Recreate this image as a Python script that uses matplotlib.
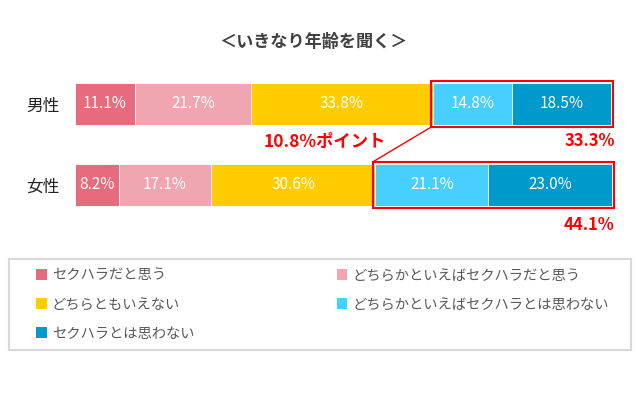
import matplotlib
matplotlib.use("Agg")
import matplotlib.pyplot as plt
import numpy as np
from matplotlib.patches import Patch, Rectangle

plt.rcParams["font.family"] = ["Noto Sans CJK JP", "DejaVu Sans"]

title = "＜いきなり年齢を聞く＞"
groups = ["男性", "女性"]
answers = [
    "セクハラだと思う",
    "どちらかといえばセクハラだと思う",
    "どちらともいえない",
    "どちらかといえばセクハラとは思わない",
    "セクハラとは思わない",
]
male = [11.1, 21.7, 33.8, 14.8, 18.5]
female = [8.2, 17.1, 30.6, 21.1, 23.0]
colors = ["#E66C7D", "#F0A6B0", "#FFCC00", "#47CFFF", "#0099CC"]

values = np.array([male, female])
W, H = 640, 396
fig = plt.figure(figsize=(W / 100, H / 100), dpi=100)
ax = fig.add_axes([75 / W, (H - 225.5) / H, 537 / W, 162 / H])

bar_h = 0.52
left = np.zeros(len(groups))
for k, (lab, col) in enumerate(zip(answers, colors)):
    ax.barh(range(len(groups)), values[:, k], left=left, height=bar_h,
            color=col, edgecolor="white", linewidth=0.6, label=lab)
    for i, v in enumerate(values[:, k]):
        ax.text(left[i] + v / 2, i, f"{v:.1f}%", ha="center", va="center",
                color="white", fontsize=11)
    left += values[:, k]

ax.set_xlim(0, 100)
ax.set_ylim(1.5, -0.5)
ax.set_yticks(range(len(groups)), groups, fontsize=12, color="#222222")
ax.tick_params(axis="y", length=0, pad=11)
ax.set_xticks([])
for s in ax.spines.values():
    s.set_visible(False)

# red boxes round the two "not harassment" segments
dx, dy = 0.37, 0.028
corners = []
for i in range(len(groups)):
    x0 = values[i, :3].sum() - dx
    x1 = values[i].sum() + dx
    y0 = i - bar_h / 2 - dy
    ax.add_patch(Rectangle((x0, y0), x1 - x0, bar_h + 2 * dy, fill=False,
                           edgecolor="#FF0000", linewidth=1.5, clip_on=False))
    corners.append((x0, y0, x1))
    tot = values[i, 3:].sum()
    ax.text(100.5, i + 0.46 + (0.03 if i else 0), f"{tot:.1f}%", ha="right", va="center",
            color="#FF0000", fontsize=12, fontweight="bold", clip_on=False)

# connector from male box bottom-left to female box top-left
ax.plot([corners[0][0], corners[1][0]], [bar_h / 2 + dy, 1 - bar_h / 2 - dy],
        color="#FF0000", linewidth=1, clip_on=False)
diff = values[1, 3:].sum() - values[0, 3:].sum()
ax.text(46.6, 0.47, f"{diff:.1f}%ポイント", ha="center", va="center",
        color="#FF0000", fontsize=12.5, fontweight="bold", clip_on=False)

fig.text(313 / W, 1 - 42 / H, title, ha="center", va="center",
         fontsize=12.3, fontweight="bold", color="#404040")

# legend (row-major order, frame drawn separately)
handles = [Patch(facecolor=c, edgecolor="none") for c in colors]
order = [0, 2, 4, 1, 3]
fig.legend([handles[j] for j in order], [answers[j] for j in order],
           ncol=2, mode="expand", loc="center", frameon=False,
           bbox_to_anchor=(36 / W, (H - 350) / H, (609 - 36) / W, 91 / H),
           fontsize=10.3, labelcolor="#595959", handlelength=0.75,
           handleheight=0.75, handletextpad=0.35, labelspacing=1.05,
           borderpad=0, borderaxespad=0)
fig.add_artist(Rectangle((9 / W, (H - 350) / H), 622 / W, 91 / H,
                         transform=fig.transFigure, fill=False,
                         edgecolor="#D9D9D9", linewidth=1.5))

fig.savefig("out.png", dpi=100)
